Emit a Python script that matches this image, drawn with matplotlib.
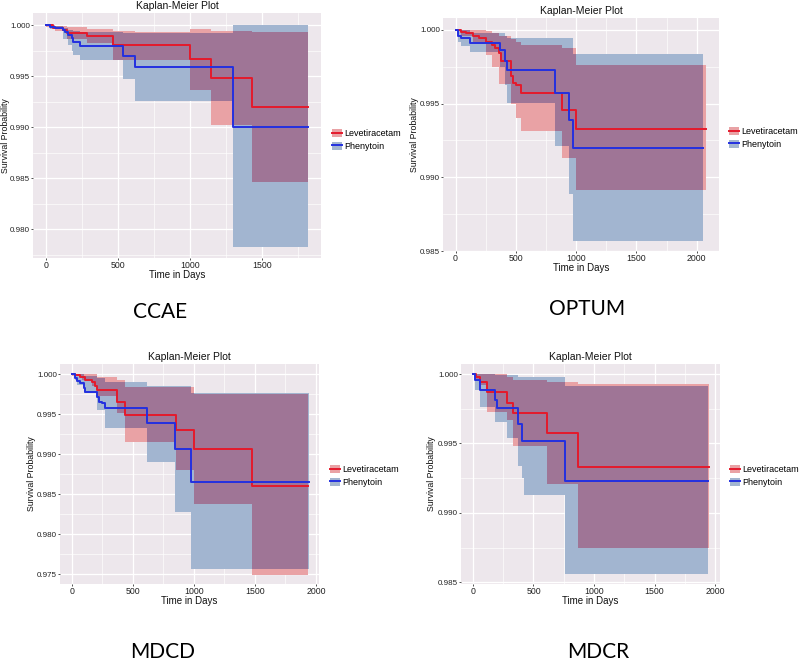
import numpy as np
import matplotlib
matplotlib.use("Agg")
import matplotlib.pyplot as plt
from matplotlib.patches import Patch
from matplotlib.lines import Line2D
from matplotlib.ticker import MultipleLocator, FormatStrFormatter

plt.rcParams["font.family"] = ["Liberation Sans", "DejaVu Sans"]

W, H = 800, 662

BG = "#EDE7EC"
RED_FILL = "#E9A2A5"
BLUE_FILL = "#A2B5D0"
BOTH_FILL = "#9F7596"
RED_LINE = "#E41A2C"
BLUE_LINE = "#2330E0"
TXT = "#333333"

LABELS = ["Levetiracetam", "Phenytoin"]

# ---- CCAE ----
CCAE_LEV_T = [0, 51, 120, 144, 287, 468, 1000, 1146, 1428]
CCAE_LEV_S = [1.0, 0.9997, 0.9995, 0.99925, 0.9989, 0.99804, 0.99663, 0.99483, 0.99196]
CCAE_LEV_END = 1820
CCAE_LEV_BAND_T = [0, 60, 144, 282, 468, 618, 1000, 1146, 1301, 1428]
CCAE_LEV_UP = [1.0, 0.9999, 0.99983, 0.99957, 0.99944, 0.99928, 0.99964, 0.99944, 0.9994, 0.99934]
CCAE_LEV_LO = [0.9998, 0.9994, 0.9986, 0.9982, 0.99657, 0.99657, 0.99362, 0.99019, 0.99019, 0.98463]

CCAE_PHE_T = [0, 28, 63, 120, 132, 155, 178, 190, 236, 537, 618, 1301]
CCAE_PHE_S = [1.0, 0.99984, 0.99967, 0.99951, 0.99935, 0.99902, 0.99869, 0.99837, 0.99797,
              0.99699, 0.99585, 0.99003]
CCAE_PHE_END = 1817
CCAE_PHE_BAND_T = [0, 28, 120, 155, 178, 190, 236, 537, 618, 1301]
CCAE_PHE_UP = [1.0, 0.9999, 0.9997, 0.9995, 0.9995, 0.9994, 0.9993, 0.9992, 0.9992, 1.0]
CCAE_PHE_LO = [1.0, 0.9996, 0.9986, 0.998, 0.9975, 0.99706, 0.99657, 0.99467, 0.99258, 0.97819]

# ---- OPTUM ----
OPT_LEV_T = [0, 47, 89, 144, 194, 256, 306, 325, 361, 381, 464, 478, 500, 547, 881, 1000]
OPT_LEV_S = [1.0, 0.99989, 0.99977, 0.99962, 0.99944, 0.99921, 0.99899, 0.99876, 0.99842,
             0.99786, 0.99685, 0.9964, 0.99628, 0.99572, 0.9946, 0.99331]
OPT_LEV_END = 2081
OPT_LEV_BAND_T = [0, 47, 144, 256, 306, 361, 464, 500, 547, 881, 1000]
OPT_LEV_UP = [1.0, 1.0, 1.0, 0.9999, 0.9998, 0.9996, 0.9994, 0.9992, 0.999, 0.9988, 0.99759]
OPT_LEV_LO = [0.9999, 0.9996, 0.9992, 0.9983, 0.9975, 0.9963, 0.995, 0.994, 0.99313, 0.99133, 0.98915]

OPT_PHE_T = [0, 19, 47, 117, 367, 408, 428, 825, 944, 972]
OPT_PHE_S = [1.0, 0.99962, 0.99944, 0.9991, 0.99865, 0.99786, 0.9973, 0.99572, 0.99392, 0.992]
OPT_PHE_END = 2056
OPT_PHE_BAND_T = [0, 19, 47, 117, 367, 408, 428, 825, 944, 972]
OPT_PHE_UP = [1.0, 1.0, 1.0, 0.9998, 0.99978, 0.9996, 0.99944, 0.99944, 0.99944, 0.99836]
OPT_PHE_LO = [0.9999, 0.9992, 0.99888, 0.99849, 0.9975, 0.99628, 0.99505, 0.99212, 0.98885, 0.9857]

# ---- MDCD ----
MDCD_LEV_T = [0, 22, 66, 107, 161, 189, 205, 370, 438, 849, 1000, 1476]
MDCD_LEV_S = [1.0, 0.99987, 0.99958, 0.99929, 0.99896, 0.99846, 0.998, 0.99654, 0.99488,
              0.99295, 0.9906, 0.986]
MDCD_LEV_END = 1935
MDCD_LEV_BAND_T = [0, 82, 164, 205, 370, 438, 849, 1000, 1476]
MDCD_LEV_UP = [1.0, 1.0, 0.99995, 0.9996, 0.9993, 0.9984, 0.9984, 0.99745, 0.99745]
MDCD_LEV_LO = [0.9998, 0.9992, 0.9985, 0.9972, 0.9951, 0.99154, 0.988, 0.98375, 0.97487]

MDCD_PHE_T = [0, 22, 41, 68, 96, 110, 205, 219, 247, 274, 616, 841, 973]
MDCD_PHE_S = [1.0, 0.99946, 0.99917, 0.99883, 0.99821, 0.99779, 0.99717, 0.99654, 0.99633,
              0.99579, 0.99383, 0.99058, 0.98654]
MDCD_PHE_END = 1940
MDCD_PHE_BAND_T = [0, 22, 41, 96, 205, 274, 616, 841, 973]
MDCD_PHE_UP = [1.0, 1.0, 1.0, 0.9998, 0.9995, 0.999, 0.9985, 0.9985, 0.99767]
MDCD_PHE_LO = [0.9999, 0.9992, 0.9986, 0.99758, 0.9955, 0.9932, 0.98904, 0.98279, 0.97558]

# ---- MDCR ----
MDCR_LEV_T = [0, 25, 58, 118, 284, 334, 610, 871]
MDCR_LEV_S = [1.0, 0.99976, 0.99945, 0.99868, 0.99794, 0.99717, 0.99576, 0.99334]
MDCR_LEV_END = 1948
MDCR_LEV_BAND_T = [0, 25, 58, 118, 284, 334, 610, 871]
MDCR_LEV_UP = [1.0, 1.0, 1.0, 1.0, 0.9998, 0.99955, 0.9994, 0.99928]
MDCR_LEV_LO = [0.9999, 0.9996, 0.9992, 0.9973, 0.9967, 0.99479, 0.99211, 0.98749]

MDCR_PHE_T = [0, 18, 60, 183, 197, 376, 403, 761]
MDCR_PHE_S = [1.0, 0.99959, 0.99885, 0.99815, 0.99754, 0.99637, 0.99519, 0.99233]
MDCR_PHE_END = 1945
MDCR_PHE_BAND_T = [0, 18, 60, 183, 281, 376, 403, 420, 761]
MDCR_PHE_UP = [1.0, 1.0, 1.0, 0.99995, 0.9999, 0.9998, 0.99975, 0.99975, 0.99914]
MDCR_PHE_LO = [0.9999, 0.99885, 0.99766, 0.99658, 0.99538, 0.9934, 0.9925, 0.99132, 0.98562]


def steps(t, v, end):
    return np.append(t, end), np.append(v, v[-1])


def step_at(t, v, x):
    idx = np.searchsorted(t, x, side="right") - 1
    return np.asarray(v)[np.clip(idx, 0, None)]


def draw_panel(box, lev, phe, xlim, ylim, xmax_tick, ymin_tick, ylab_x, legend_xy):
    left, right, top, bottom = box
    ax = plt.gcf().add_axes([left / W, 1 - bottom / H, (right - left) / W, (bottom - top) / H])
    ax.set_facecolor(BG)
    for s in ax.spines.values():
        s.set_visible(False)

    # confidence bands, then their overlap
    for (lt, ls, end, bt, up, lo), col in ((lev, RED_FILL), (phe, BLUE_FILL)):
        x, u = steps(bt, up, end)
        _, l = steps(bt, lo, end)
        ax.fill_between(x, l, u, step="post", color=col, lw=0, zorder=2)

    end = min(lev[2], phe[2])
    grid = np.union1d(lev[3], phe[3])
    grid = grid[grid < end]
    up = np.minimum(step_at(lev[3], lev[4], grid), step_at(phe[3], phe[4], grid))
    lo = np.maximum(step_at(lev[3], lev[5], grid), step_at(phe[3], phe[5], grid))
    lo = np.minimum(lo, up)
    x, u = steps(grid, up, end)
    _, l = steps(grid, lo, end)
    ax.fill_between(x, l, u, step="post", color=BOTH_FILL, lw=0, zorder=3)

    for (lt, ls, end, *_), col in ((lev, RED_LINE), (phe, BLUE_LINE)):
        x, y = steps(lt, ls, end)
        ax.step(x, y, where="post", color=col, lw=1.4, zorder=4)

    ax.set_xlim(*xlim)
    ax.set_ylim(*ylim)
    ax.set_xticks(np.arange(0, xmax_tick + 1, 500))
    ax.set_yticks(np.arange(ymin_tick, 1.0001, 0.005))
    ax.xaxis.set_minor_locator(MultipleLocator(250))
    ax.yaxis.set_minor_locator(MultipleLocator(0.0025))
    ax.yaxis.set_major_formatter(FormatStrFormatter("%.3f"))
    ax.grid(which="major", color="white", lw=0.9, zorder=0)
    ax.grid(which="minor", color="white", lw=0.45, zorder=0)
    ax.set_axisbelow(True)
    ax.tick_params(which="major", length=1.5, width=0.6, color=TXT, labelsize=5.8,
                   labelcolor="#222222", pad=0.6)
    ax.tick_params(axis="x", which="major", labelsize=6.3, pad=1.0)
    ax.tick_params(which="minor", length=0)

    ax.set_title("Kaplan-Meier Plot", fontsize=7.5, pad=3, color="#111111")
    ax.set_xlabel("Time in Days", fontsize=7, color="#111111", labelpad=0)
    ax.set_ylabel("Survival Probability", fontsize=6.3, color="#111111")
    ax.yaxis.set_label_coords((ylab_x - left) / (right - left), 0.5)

    handles = [(Patch(facecolor=RED_FILL, edgecolor="none"), Line2D([], [], color=RED_LINE, lw=1.4)),
               (Patch(facecolor=BLUE_FILL, edgecolor="none"), Line2D([], [], color=BLUE_LINE, lw=1.4))]
    plt.gcf().legend(handles, LABELS, loc="center left",
                     bbox_to_anchor=(legend_xy[0] / W, 1 - legend_xy[1] / H),
                     frameon=False, fontsize=6.5, handlelength=1.1, handleheight=1.0,
                     handletextpad=0.25, labelspacing=0.35, borderpad=0, borderaxespad=0)
    return ax


fig = plt.figure(figsize=(W / 100, H / 100), dpi=100)

draw_panel((33, 321, 13, 258),
           (CCAE_LEV_T, CCAE_LEV_S, CCAE_LEV_END, CCAE_LEV_BAND_T, CCAE_LEV_UP, CCAE_LEV_LO),
           (CCAE_PHE_T, CCAE_PHE_S, CCAE_PHE_END, CCAE_PHE_BAND_T, CCAE_PHE_UP, CCAE_PHE_LO),
           (-90, 1910), (0.97716, 1.00118), 1500, 0.980, 10, (332, 140))

draw_panel((443, 719, 18, 251),
           (OPT_LEV_T, OPT_LEV_S, OPT_LEV_END, OPT_LEV_BAND_T, OPT_LEV_UP, OPT_LEV_LO),
           (OPT_PHE_T, OPT_PHE_S, OPT_PHE_END, OPT_PHE_BAND_T, OPT_PHE_UP, OPT_PHE_LO),
           (-104, 2185), (0.98507, 1.00081), 2000, 0.985, 419, (729, 138))

draw_panel((60, 319, 364, 584),
           (MDCD_LEV_T, MDCD_LEV_S, MDCD_LEV_END, MDCD_LEV_BAND_T, MDCD_LEV_UP, MDCD_LEV_LO),
           (MDCD_PHE_T, MDCD_PHE_S, MDCD_PHE_END, MDCD_PHE_BAND_T, MDCD_PHE_UP, MDCD_PHE_LO),
           (-98, 2025), (0.97375, 1.00125), 2000, 0.975, 36, (330, 476))

draw_panel((461, 720, 364, 584),
           (MDCR_LEV_T, MDCR_LEV_S, MDCR_LEV_END, MDCR_LEV_BAND_T, MDCR_LEV_UP, MDCR_LEV_LO),
           (MDCR_PHE_T, MDCR_PHE_S, MDCR_PHE_END, MDCR_PHE_BAND_T, MDCR_PHE_UP, MDCR_PHE_LO),
           (-99, 2041), (0.98489, 1.00072), 2000, 0.985, 436, (730, 476))

# database names under each panel
for name, x, y in (("CCAE", 160, 312), ("OPTUM", 587, 309), ("MDCD", 163, 652), ("MDCR", 598, 652)):
    fig.text(x / W, 1 - y / H, name, fontsize=15, family=["Lato", "DejaVu Sans"],
             ha="center", va="center", color="black")

fig.savefig("out.png", dpi=100, facecolor="white")
